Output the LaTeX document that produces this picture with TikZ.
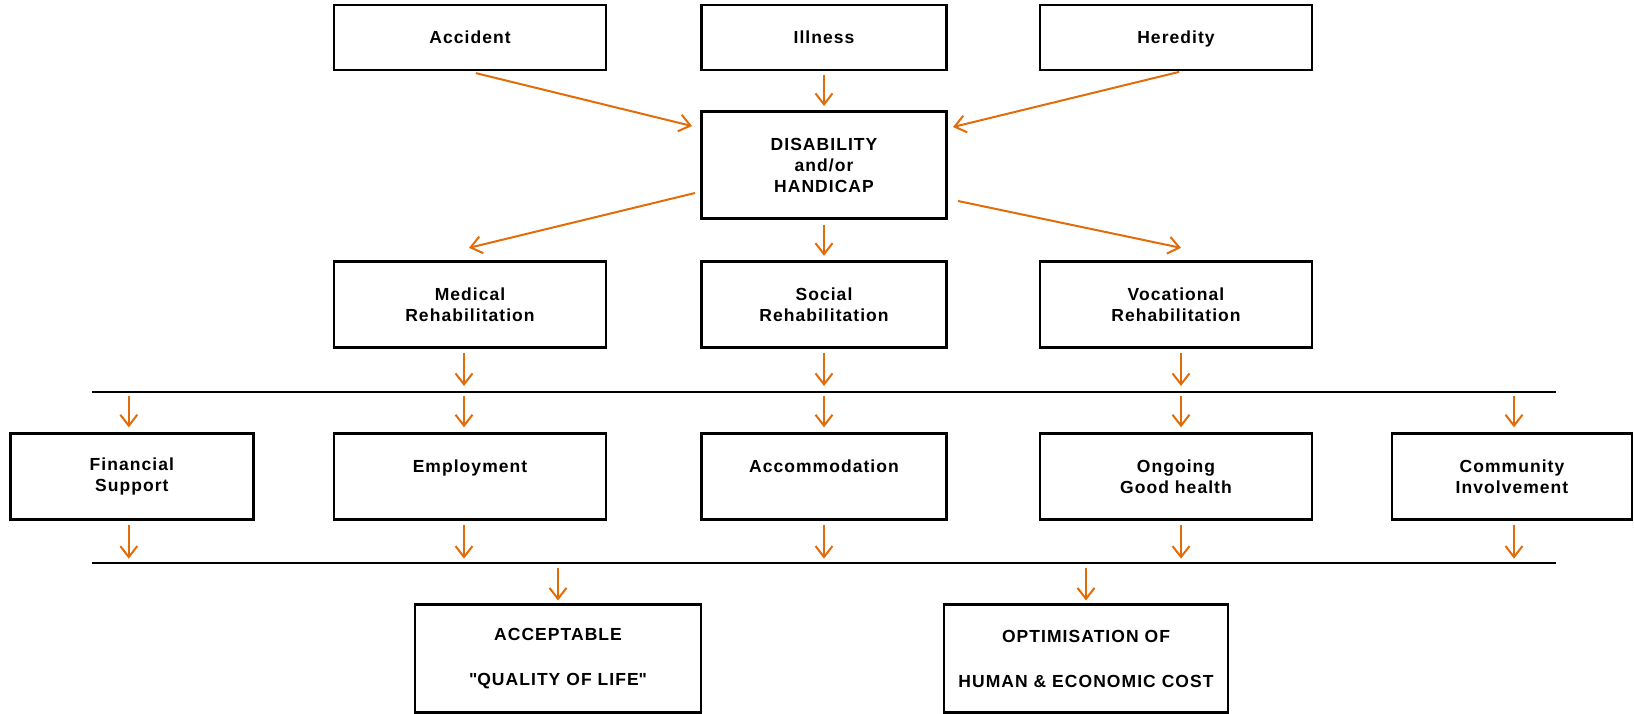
\documentclass[tikz,border=0pt]{standalone}
\usepackage{fontspec}
\setmainfont{Liberation Sans}[LetterSpace=6]
\usetikzlibrary{arrows.meta}
\definecolor{arrorange}{RGB}{227,108,10}
\tikzset{
	box/.style={draw, line width=2.9pt, minimum width=272pt, minimum height=86pt,
		inner sep=0pt, align=center, font=\fontsize{17.5}{21}\selectfont\bfseries},
	single/.style={text height=13pt, text depth=0pt},
	arr/.style={arrorange, line width=2pt, -{Straight Barb[length=11pt,width=17pt]}},
	rule/.style={line width=2pt}
}
\begin{document}
\begin{tikzpicture}[x=1pt,y=-1pt]
	\useasboundingbox (0,0) rectangle (1634,714);
	% Причины
	\node[box, single, minimum height=65pt] (accident) at (470,37.5) {Accident};
	\node[box, single, minimum height=65pt, minimum width=245pt] (illness) at (824,37.5) {Illness};
	\node[box, single, minimum height=65pt] (heredity) at (1176,37.5) {Heredity};
	% Центр
	\node[box, minimum height=107pt, minimum width=245pt] (disab) at (824,165) {DISABILITY\\and/or\\HANDICAP};
	% Реабилитация
	\node[box] (medical) at (470,304.3) {Medical\\Rehabilitation};
	\node[box, minimum width=245pt] (social) at (824,304.3) {Social\\Rehabilitation};
	\node[box] (vocational) at (1176,304.3) {Vocational\\Rehabilitation};
	% Линии
	\coordinate (l1a) at (92,392);
	\coordinate (l1b) at (1556,392);
	\coordinate (l2a) at (92,562.7);
	\coordinate (l2b) at (1556,562.7);
	\draw[rule] (l1a) -- (l1b);
	\draw[rule] (l2a) -- (l2b);
	% Результаты
	\node[box, minimum width=243pt] (financial) at (131.8,476.3) {Financial\\Support};
	\node[box] (employment) at (470,476.3) {Employment\\\mbox{}};
	\node[box, minimum width=245pt] (accomm) at (824,476.3) {Accommodation\\\mbox{}};
	\node[box] (ongoing) at (1176,476.3) {Ongoing\\Good health};
	\node[box, minimum width=240pt] (community) at (1512,476.3) {Community\\Involvement};
	% Итог
	\node[box, minimum width=286pt, minimum height=108pt] (quality) at (558,658.5) {ACCEPTABLE\\[24pt]\textquotedbl QUALITY OF LIFE\textquotedbl};
	\node[box, minimum width=284pt, minimum height=108pt] (optim) at (1086,658.5) {OPTIMISATION OF\\[24pt]HUMAN \& ECONOMIC COST};

	% Стрелки к центру
	\draw[arr, shorten <=7pt] ([xshift=-1pt]accident.south) -- ([xshift=-8pt,yshift=-16pt]disab.north west);
	\draw[arr, shorten <=4pt, shorten >=4pt] (illness.south) -- (disab.north);
	\draw[arr, shorten <=2pt] ([xshift=5pt]heredity.south) -- ([xshift=5pt,yshift=-17pt]disab.north east);
	% Стрелки от центра
	\draw[arr] ([xshift=-5pt,yshift=-28pt]disab.west) -- ([xshift=-1pt,yshift=12pt]medical.north);
	\draw[arr, shorten <=5pt, shorten >=4pt] (disab.south) -- (social.north);
	\draw[arr] ([xshift=10pt,yshift=-36pt]disab.east) -- ([xshift=5pt,yshift=12pt]vocational.north);
	% Стрелки к первой линии
	\foreach \n/\d in {medical/-6, social/0, vocational/5}
		\draw[arr, shorten <=4pt, shorten >=6pt] ([xshift=\d pt]\n.south) -- ([xshift=\d pt]\n.south |- l1a);
	% От первой линии
	\foreach \n/\d in {financial/-3, employment/-6, accomm/0, ongoing/5, community/2}
		\draw[arr, shorten <=4pt, shorten >=4.5pt] ([xshift=\d pt]\n.north |- l1a) -- ([xshift=\d pt]\n.north);
	% Ко второй линии
	\foreach \n/\d in {financial/-3, employment/-6, accomm/0, ongoing/5, community/2}
		\draw[arr, shorten <=4pt, shorten >=4pt] ([xshift=\d pt]\n.south) -- ([xshift=\d pt]\n.south |- l2a);
	% К итогу
	\foreach \n in {quality, optim}
		\draw[arr, shorten <=5pt, shorten >=2.5pt] (\n.north |- l2a) -- (\n.north);
\end{tikzpicture}
\end{document}
